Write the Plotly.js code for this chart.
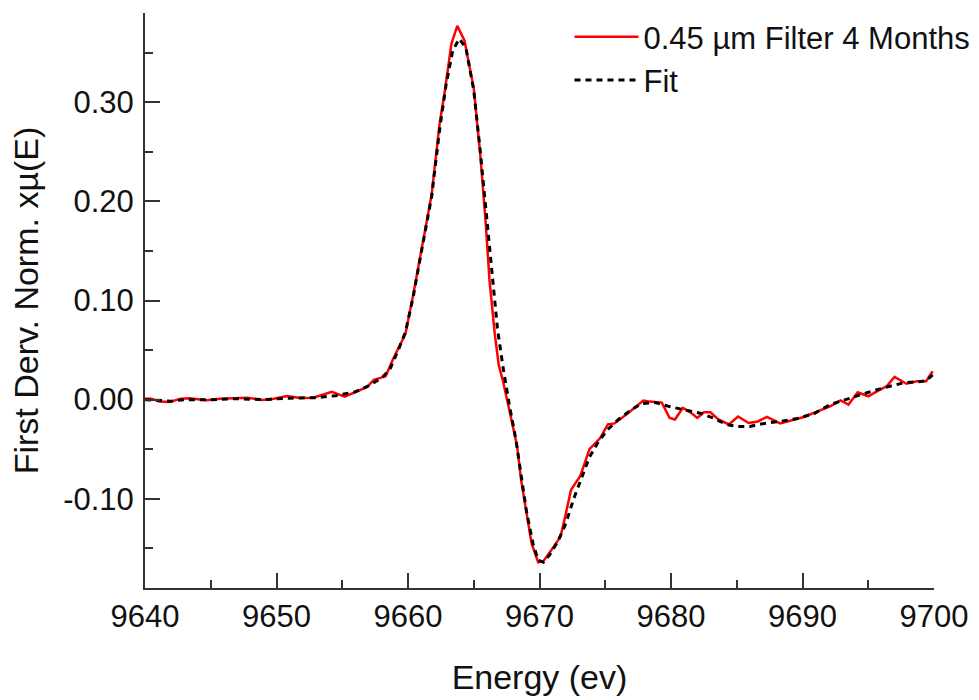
<!DOCTYPE html>
<html>
<head>
<meta charset="utf-8">
<script src="https://cdn.plot.ly/plotly-3.0.1.min.js"></script>
<style>html,body{margin:0;padding:0;background:#fff;}#chart{width:979px;height:700px;}</style>
</head>
<body>
<div id="chart"></div>
<script>
// Measured spectrum (first derivative)
const dataE = [9640.0,9640.5,9641.1,9641.9,9642.7,9643.4,9644.0,9644.7,9645.7,9647.0,9647.8,9648.9,9649.8,9650.8,9651.8,9652.8,9654.2,9655.2,9656.1,9656.9,9657.4,9658.3,9658.9,9659.8,9660.4,9661.0,9661.8,9662.4,9662.8,9663.3,9663.75,9664.3,9665.0,9665.5,9665.9,9666.2,9666.6,9666.9,9667.2,9667.75,9668.3,9668.6,9669.0,9669.4,9669.9,9670.3,9671.0,9671.6,9671.9,9672.4,9673.1,9673.8,9674.6,9675.2,9675.7,9676.6,9677.9,9678.4,9679.3,9679.9,9680.3,9680.9,9681.4,9682.0,9682.5,9683.0,9683.6,9684.4,9685.1,9685.9,9686.6,9687.3,9688.3,9689.2,9690.1,9691.1,9692.1,9692.9,9693.5,9694.2,9695.0,9695.8,9696.4,9697.0,9697.9,9698.7,9699.4,9699.9];
const dataY = [0.001,0.001,-0.002,-0.0023,0.001,0.0013,0.0005,-0.0007,0.001,0.0017,0.002,-0.0003,0.001,0.0037,0.0017,0.002,0.0078,0.003,0.0078,0.0128,0.020,0.0235,0.042,0.066,0.106,0.150,0.207,0.278,0.311,0.359,0.377,0.362,0.314,0.247,0.180,0.120,0.066,0.035,0.020,-0.013,-0.047,-0.081,-0.114,-0.145,-0.164,-0.163,-0.150,-0.138,-0.121,-0.091,-0.077,-0.050,-0.039,-0.025,-0.024,-0.015,-0.001,-0.002,-0.003,-0.0185,-0.020,-0.0084,-0.012,-0.0185,-0.0128,-0.0128,-0.020,-0.025,-0.017,-0.0236,-0.022,-0.0175,-0.024,-0.021,-0.0175,-0.012,-0.0067,-0.0007,-0.005,0.0074,0.0034,0.0094,0.0134,0.023,0.016,0.0185,0.0185,0.0286];

// Fit
const fitE = [9640.0,9641.0,9642.0,9643.0,9645.0,9647.0,9649.0,9651.0,9653.0,9654.5,9656.0,9657.0,9658.0,9658.6,9659.2,9659.8,9660.4,9661.0,9661.8,9662.4,9662.9,9663.4,9663.9,9664.4,9665.0,9665.5,9666.0,9666.4,9666.8,9667.2,9667.7,9668.2,9668.6,9669.0,9669.5,9669.9,9670.3,9670.8,9671.4,9672.0,9672.6,9673.2,9673.8,9674.5,9675.2,9676.0,9677.0,9677.8,9678.8,9679.9,9681.0,9682.3,9683.3,9684.2,9685.0,9686.0,9687.1,9688.3,9689.6,9690.9,9692.1,9693.4,9694.9,9696.2,9697.7,9698.7,9699.4,9699.9];
const fitY = [0.000,-0.001,-0.0015,0.000,0.000,0.001,0.000,0.0015,0.002,0.004,0.008,0.014,0.022,0.030,0.048,0.068,0.104,0.148,0.205,0.272,0.318,0.352,0.364,0.355,0.312,0.250,0.182,0.125,0.072,0.035,-0.005,-0.040,-0.078,-0.112,-0.145,-0.162,-0.164,-0.156,-0.143,-0.125,-0.100,-0.078,-0.058,-0.042,-0.030,-0.020,-0.010,-0.004,-0.003,-0.007,-0.010,-0.014,-0.019,-0.025,-0.027,-0.027,-0.024,-0.022,-0.019,-0.014,-0.005,0.0007,0.007,0.012,0.017,0.018,0.019,0.025];

const xTickVals = [9640,9650,9660,9670,9680,9690,9700];
const xTickText = ["9640","9650","9660","9670","9680","9690","9700"];
const yTickVals = [-0.1,0,0.1,0.2,0.3];
const yTickText = ["-0.10","0.00","0.10","0.20","0.30"];

const seriesNames = ["0.45 \u00b5m Filter 4 Months","Fit"];

const fontFam = "Arial, 'Liberation Sans', sans-serif";

const traces = [
  {x: dataE, y: dataY, type: 'scatter', mode: 'lines', name: seriesNames[0],
   line: {color: '#ff0000', width: 2.5}},
  {x: fitE, y: fitY, type: 'scatter', mode: 'lines', name: seriesNames[1],
   line: {color: '#000000', width: 3, dash: '6px,5px'}}
];

const layout = {
  width: 979, height: 700,
  margin: {l: 145, r: 45, t: 13, b: 112, autoexpand: false},
  paper_bgcolor: '#fff', plot_bgcolor: '#fff',
  font: {family: fontFam, size: 31, color: '#111'},
  showlegend: true,
  legend: {x: 0.538, y: 1.005, xanchor: 'left', yanchor: 'top', bgcolor: 'rgba(0,0,0,0)',
           font: {family: fontFam, size: 31, color: '#111'}, itemwidth: 64, tracegroupgap: 0},
  xaxis: {
    range: [9640, 9700], tickmode: 'array', tickvals: xTickVals, ticktext: xTickText,
    ticks: 'inside', ticklen: 15, tickwidth: 2, tickcolor: '#333',
    minor: {ticks: 'inside', ticklen: 8, tickwidth: 2, tickcolor: '#333', dtick: 5, tick0: 9640, showgrid: false},
    showline: true, linewidth: 2, linecolor: '#333', showgrid: false, zeroline: false,
    tickfont: {family: fontFam, size: 31, color: '#111'}, ticklabelstandoff: 0,
    title: {text: 'Energy (ev)', font: {family: fontFam, size: 34, color: '#111'}, standoff: 32}
  },
  yaxis: {
    range: [-0.19, 0.39], tickmode: 'array', tickvals: yTickVals, ticktext: yTickText,
    ticks: 'inside', ticklen: 15, tickwidth: 2, tickcolor: '#333',
    minor: {ticks: 'inside', ticklen: 8, tickwidth: 2, tickcolor: '#333', dtick: 0.05, tick0: 0, showgrid: false},
    showline: true, linewidth: 2, linecolor: '#333', showgrid: false, zeroline: false,
    tickfont: {family: fontFam, size: 31, color: '#111'}, ticklabelstandoff: 3,
    title: {text: 'First Derv. Norm. x\u00b5(E)', font: {family: fontFam, size: 34, color: '#111'}, standoff: 14}
  }
};

Plotly.newPlot('chart', traces, layout, {displayModeBar: false, staticPlot: true});
</script>
</body>
</html>
